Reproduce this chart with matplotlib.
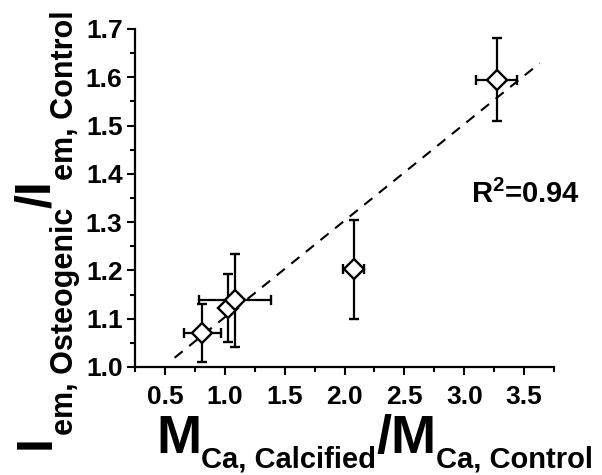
import matplotlib
matplotlib.use('Agg')
import matplotlib.pyplot as plt
from matplotlib.ticker import MultipleLocator
from matplotlib.transforms import IdentityTransform

plt.rcParams['font.family'] = 'Liberation Sans'
plt.rcParams['font.weight'] = 'bold'
plt.rcParams['mathtext.fontset'] = 'custom'
plt.rcParams['mathtext.rm'] = 'Liberation Sans:bold'
plt.rcParams['mathtext.bf'] = 'Liberation Sans:bold'
plt.rcParams['mathtext.it'] = 'Liberation Sans:bold'

# data
mass_ratio = [0.81, 1.03, 1.085, 2.075, 3.27]
mass_err = [0.155, 0.0, 0.30, 0.09, 0.17]
intensity_ratio = [1.07, 1.122, 1.138, 1.202, 1.595]
intensity_err = [0.06, 0.07, 0.097, 0.102, 0.086]

fit_slope = 0.2
fit_icpt = 0.903
fit_x = [0.58, 3.63]
r2_text = 'R$^{2}$=0.94'

xticks = [0.5, 1.0, 1.5, 2.0, 2.5, 3.0, 3.5]
xticklabels = ['0.5', '1.0', '1.5', '2.0', '2.5', '3.0', '3.5']

# label pieces: (text, big?)
xlabel_parts = [('M', True), ('Ca, Calcified', False), ('/M', True), ('Ca, Control', False)]
ylabel_parts = [('I', True), ('em, Osteogenic', False), ('/I', True), ('em, Control', False)]

fig = plt.figure(figsize=(6.02, 4.75), dpi=100)
ax = fig.add_axes([0.2243, 0.2274, 0.6960, 0.7116])

ax.plot(fit_x, [fit_icpt + fit_slope * v for v in fit_x], ls=(0, (5, 4)),
        color='black', lw=1.5, zorder=1)
ax.errorbar(mass_ratio, intensity_ratio, xerr=mass_err, yerr=intensity_err,
            fmt='D', ms=10, mfc='white', mec='black', mew=1.7,
            ecolor='black', elinewidth=1.6, capsize=3.5, capthick=1.6, zorder=3)

ax.text(3.06, 1.339, r2_text, fontsize=21, fontweight='bold', ha='left', va='baseline')

ax.set_xlim(0.25, 3.75)
ax.set_ylim(1.0, 1.7)
ax.set_xticks(xticks)
ax.set_xticklabels(xticklabels)
ax.xaxis.set_minor_locator(MultipleLocator(0.25))
ax.yaxis.set_major_locator(MultipleLocator(0.1))
ax.yaxis.set_minor_locator(MultipleLocator(0.05))

for s in ['top', 'right']:
    ax.spines[s].set_visible(False)
for s in ['left', 'bottom']:
    ax.spines[s].set_linewidth(1.6)
ax.tick_params(which='major', length=6, width=1.5, labelsize=19, pad=3)
ax.tick_params(axis='x', which='major', pad=7)
ax.tick_params(which='minor', length=3.5, width=1.5)
for lab in ax.get_xticklabels() + ax.get_yticklabels():
    lab.set_fontweight('bold')

# axis titles built piece by piece so the subscripts sit low like the original
renderer = fig.canvas.get_renderer()


def draw_label(parts, start, base_big, base_small, big, small, rot):
    pos = start
    for txt, is_big in parts:
        size = big if is_big else small
        base = base_big if is_big else base_small
        if rot == 0:
            t = fig.text(pos, base, txt, fontsize=size, fontweight='bold',
                         ha='left', va='baseline', transform=IdentityTransform())
            pos += t.get_window_extent(renderer).width
        else:
            t = fig.text(base, pos, txt, fontsize=size, fontweight='bold',
                         ha='left', va='baseline', rotation=90,
                         rotation_mode='anchor', transform=IdentityTransform())
            pos += t.get_window_extent(renderer).height


draw_label(xlabel_parts, 156, 22, 8, 39, 21, 0)
draw_label(ylabel_parts, 26, 50, 73, 36, 22, 90)

fig.savefig('out.png', dpi=100)
